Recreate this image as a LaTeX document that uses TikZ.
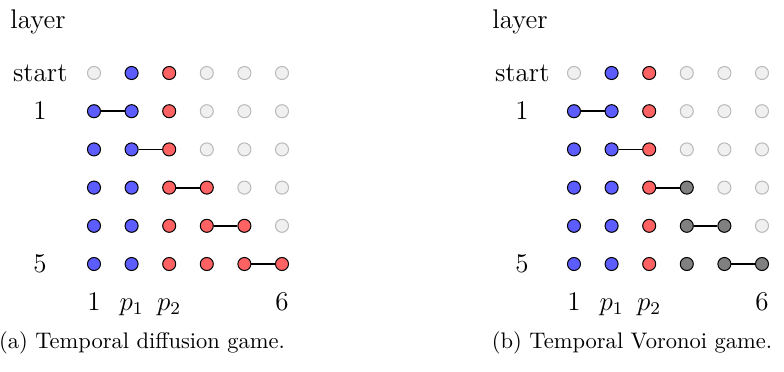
\documentclass[tikz,border=0pt]{standalone}
\usepackage{xcolor}
\definecolor{cblue}{RGB}{92,92,255}
\definecolor{cred}{RGB}{255,98,98}
\definecolor{cdark}{RGB}{128,128,128}
\definecolor{cempty}{RGB}{240,240,240}
\definecolor{cemptyline}{RGB}{185,185,185}
\newcommand\drawpanel[5]{%
  \foreach \r/\lst in {0/{e,b,r,e,e,e},1/{b,b,r,e,e,e},2/{b,b,r,e,e,e},3/{#3},4/{#4},5/{#5}}{
    \foreach \s [count=\c] in \lst {
      \node[s\s] (#1-\r-\c) at ({#2+94+37.6*(\c-1)},{73+38.2*\r}) {};
    }
  }
  \foreach \r in {1,...,5}{
    \pgfmathtruncatemacro{\nx}{\r+1}
    \draw[link] (#1-\r-\r) -- (#1-\r-\nx);
  }
}
\begin{document}
\begin{tikzpicture}[x=0.4444pt,y=-0.4444pt,
  dot/.style={circle,inner sep=0pt,draw=black,line width=0.45pt,minimum size=5.8pt},
  sb/.style={dot,fill=cblue},
  sr/.style={dot,fill=cred},
  sd/.style={dot,fill=cdark},
  se/.style={dot,fill=cempty,draw=cemptyline},
  link/.style={line width=0.8pt,black},
  lbl/.style={inner sep=0pt,font=\fontsize{12}{14}\selectfont},
  captext/.style={inner sep=0pt,font=\fontsize{10}{12}\selectfont}]
\useasboundingbox (0,0) rectangle (784,371);
\drawpanel{L}{0}{b,b,r,r,e,e}{b,b,r,r,r,e}{b,b,r,r,r,r}
\drawpanel{R}{480}{b,b,r,d,e,e}{b,b,r,d,d,e}{b,b,r,d,d,d}
% left labels
\node[lbl,anchor=base west] (Llayer) at (10,28) {layer};
\node[lbl,anchor=east] (Lstart) at (68,73) {start};
\node[lbl] (Lone) at (40,111) {1};
\node[lbl] (Lfive) at (40,264) {5};
\node[lbl,anchor=base] (Lb1) at (94,310) {1};
\node[lbl,anchor=base] (Lbp1) at (131.6,310) {$p_1$};
\node[lbl,anchor=base] (Lbp2) at (169.2,310) {$p_2$};
\node[lbl,anchor=base] (Lb6) at (282,310) {6};
\node[captext,anchor=base] (Lcap) at (142,348) {(a) Temporal diffusion game.};
% right labels
\node[lbl,anchor=base west] (Rlayer) at (492,28) {layer};
\node[lbl,anchor=east] (Rstart) at (550,73) {start};
\node[lbl] (Rone) at (522,111) {1};
\node[lbl] (Rfive) at (522,264) {5};
\node[lbl,anchor=base] (Rb1) at (574,310) {1};
\node[lbl,anchor=base] (Rbp1) at (611.6,310) {$p_1$};
\node[lbl,anchor=base] (Rbp2) at (649.2,310) {$p_2$};
\node[lbl,anchor=base] (Rb6) at (762,310) {6};
\node[captext,anchor=base] (Rcap) at (632,348) {(b) Temporal Voronoi game.};
\end{tikzpicture}
\end{document}
